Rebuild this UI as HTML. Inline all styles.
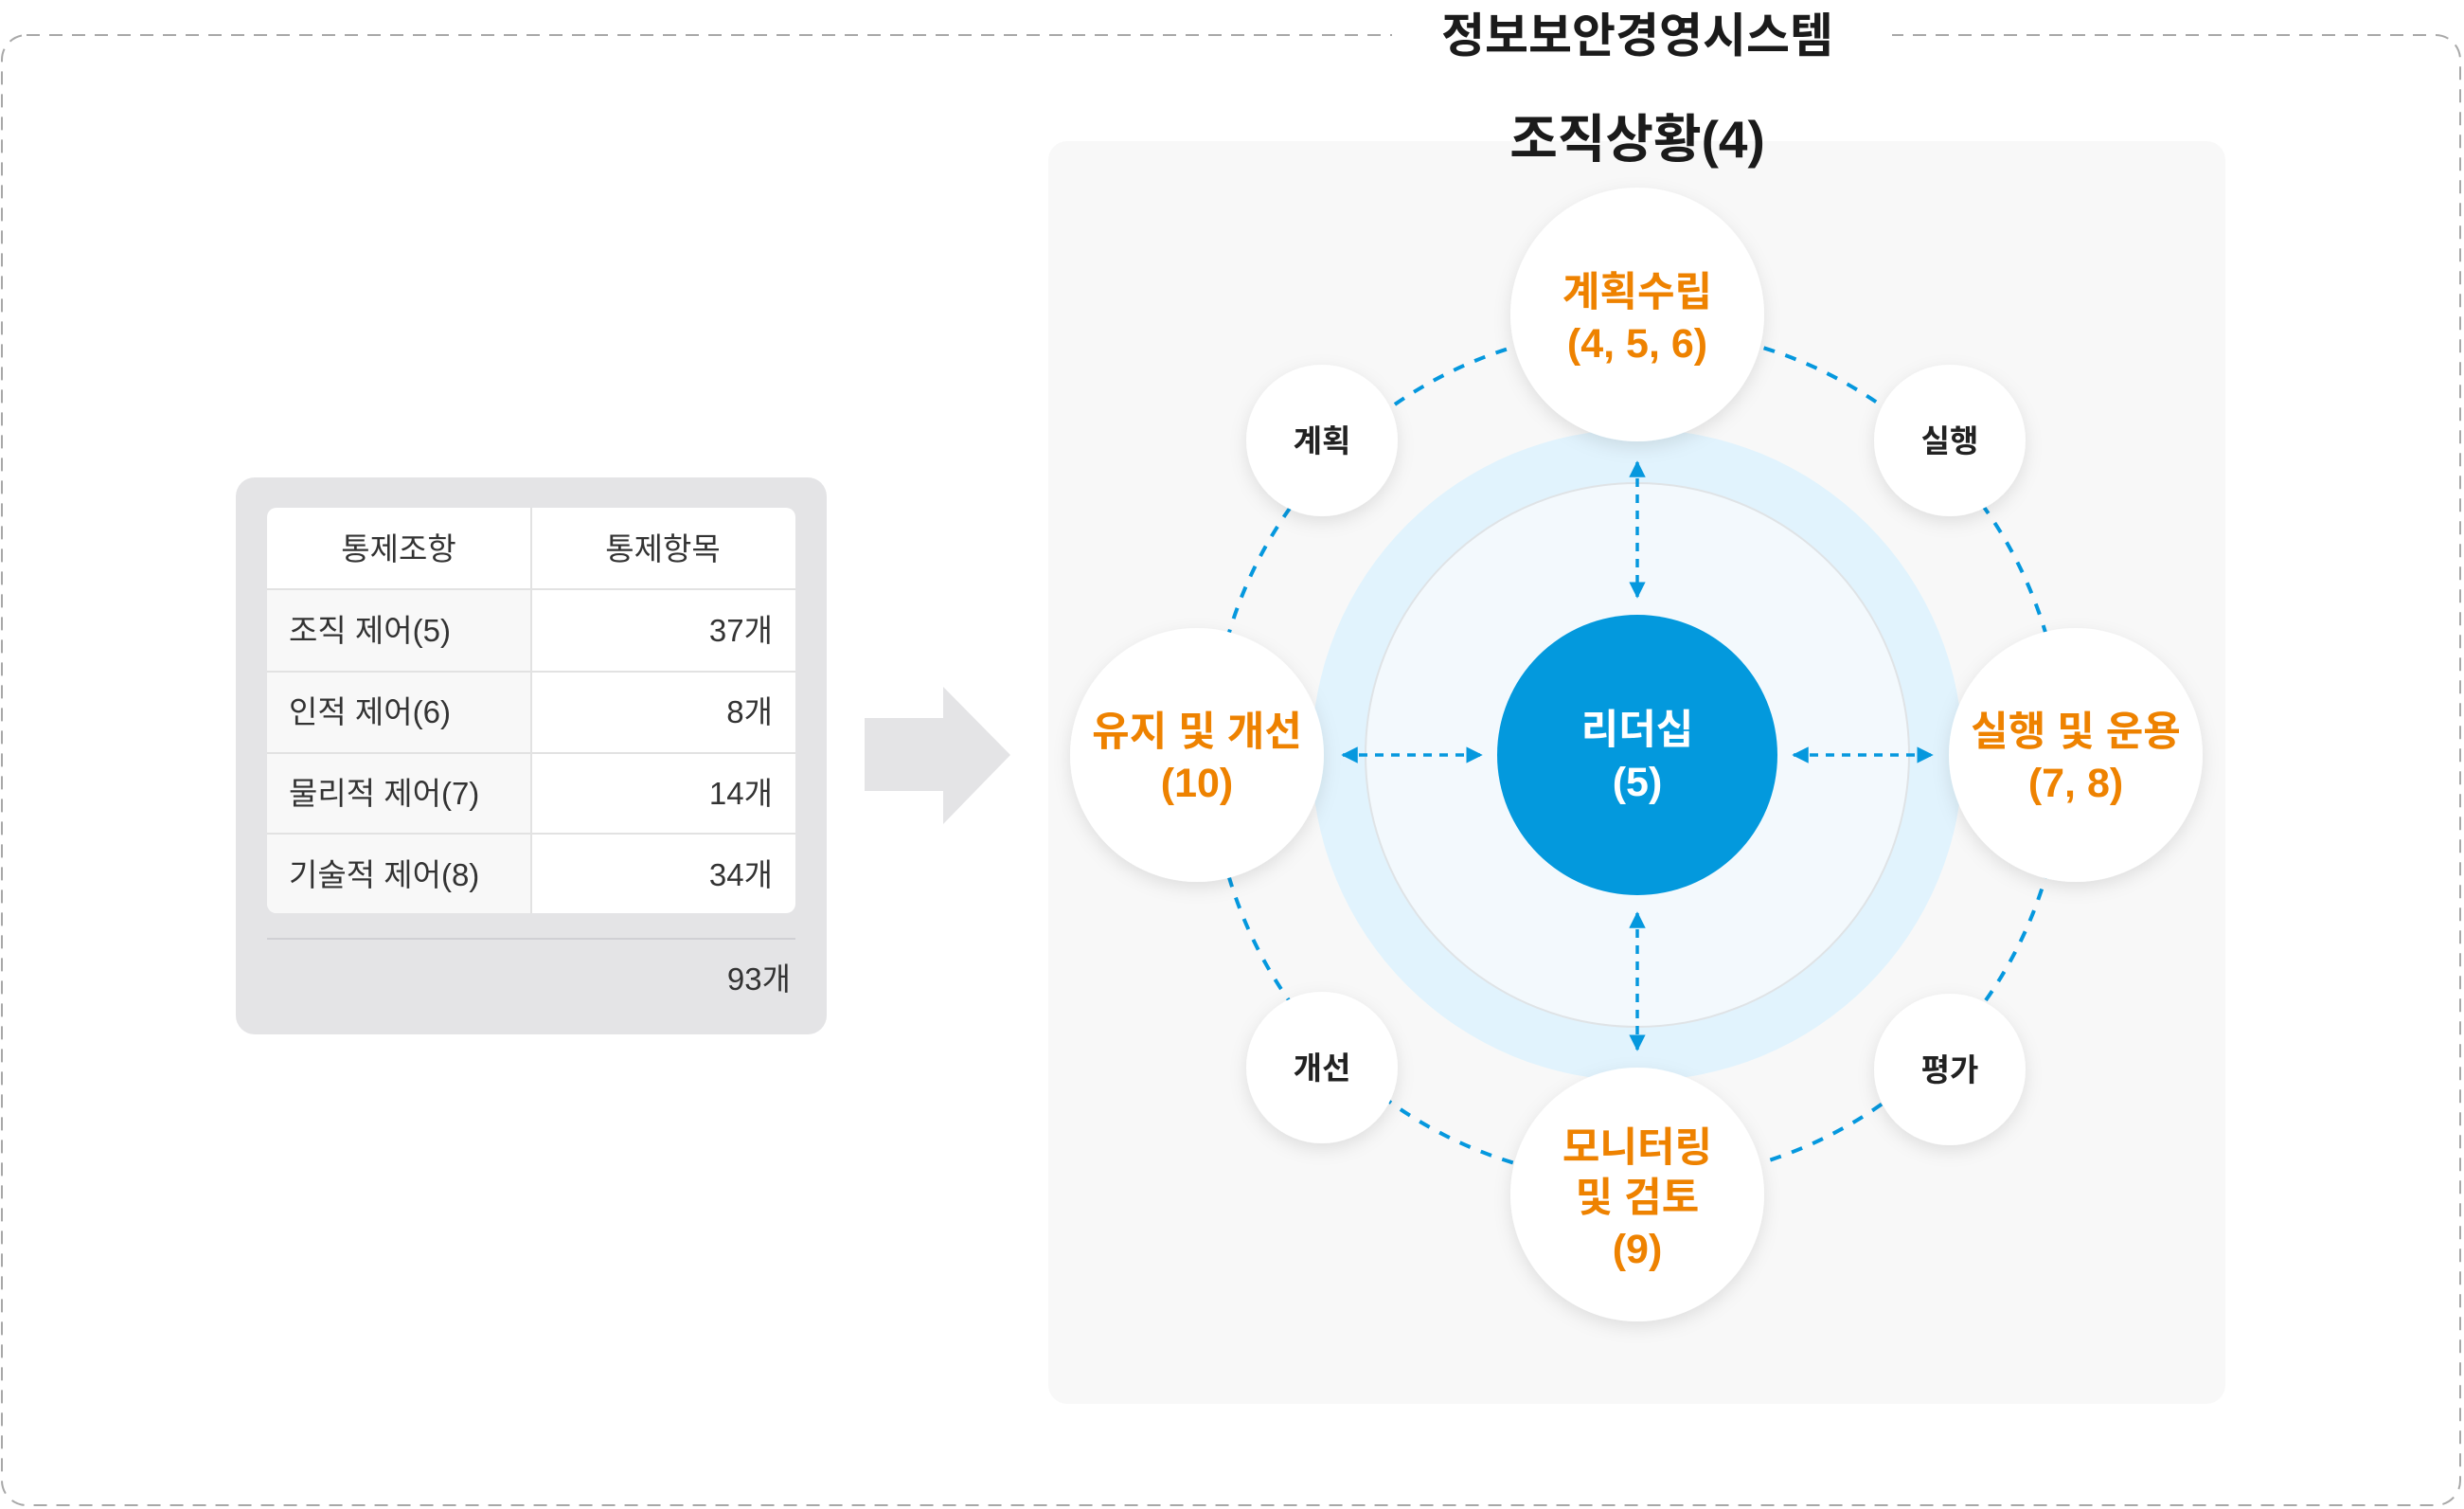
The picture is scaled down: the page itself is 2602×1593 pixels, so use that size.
<!DOCTYPE html>
<html><head><meta charset="utf-8"><style>
html,body{margin:0;padding:0;background:#fff;}
svg{display:block;}
text{font-family:"Liberation Sans","Noto Sans CJK KR",sans-serif;}
</style></head><body>
<svg width="2602" height="1593" viewBox="0 0 2602 1593" xmlns="http://www.w3.org/2000/svg">
<defs>
<filter id="sh" x="-30%" y="-30%" width="160%" height="160%"><feDropShadow dx="0" dy="6" stdDeviation="9" flood-color="#000" flood-opacity="0.10"/></filter>
<marker id="ah" viewBox="0 0 10 10" refX="9" refY="5" markerWidth="5" markerHeight="5" orient="auto-start-reverse"><path d="M0,0 L10,5 L0,10 z" fill="#0598de"/></marker>
</defs>
<rect x="2" y="37" width="2596" height="1552" rx="26" fill="none" stroke="#a8a8a8" stroke-width="2" stroke-dasharray="14 10"/>
<rect x="1470" y="22" width="528" height="34" fill="#fff"/>
<text x="1729" y="55" font-size="50" font-weight="bold" fill="#1b1b1b" text-anchor="middle">정보보안경영시스템</text>

<rect x="249" y="504" width="624" height="588" rx="20" fill="#e4e4e6"/>
<rect x="282" y="536" width="558" height="428" rx="10" fill="#fff"/>
<path d="M282 622 H561 V964 H292 a10 10 0 0 1 -10 -10 Z" fill="#f8f8f8"/>
<g stroke="#e2e2e2" stroke-width="2">
<line x1="561" y1="536" x2="561" y2="964"/>
<line x1="282" y1="622" x2="840" y2="622"/>
<line x1="282" y1="709" x2="840" y2="709"/>
<line x1="282" y1="795" x2="840" y2="795"/>
<line x1="282" y1="880" x2="840" y2="880"/>
</g>
<line x1="282" y1="991" x2="840" y2="991" stroke="#d0d0d4" stroke-width="2"/>
<g font-size="33" fill="#333">
<text x="421" y="591" text-anchor="middle">통제조항</text>
<text x="700" y="591" text-anchor="middle">통제항목</text>
<text x="305" y="677">조직 제어(5)</text>
<text x="305" y="763">인적 제어(6)</text>
<text x="305" y="849">물리적 제어(7)</text>
<text x="305" y="935">기술적 제어(8)</text>
<text x="816" y="677" text-anchor="end">37개</text>
<text x="816" y="763" text-anchor="end">8개</text>
<text x="816" y="849" text-anchor="end">14개</text>
<text x="816" y="935" text-anchor="end">34개</text>
<text x="835" y="1045" text-anchor="end">93개</text>
</g>

<path d="M913 758 H996 V725 L1067 797 L996 870 V835 H913 Z" fill="#e4e4e6"/>

<rect x="1107" y="149" width="1243" height="1333" rx="20" fill="#f8f8f8"/>
<text x="1729" y="166" font-size="55" font-weight="bold" fill="#1b1b1b" text-anchor="middle">조직상황(4)</text>

<circle cx="1729" cy="797" r="344" fill="#e1f3fd"/>
<circle cx="1729" cy="797" r="287" fill="#f3f9fd" stroke="#dfe3e6" stroke-width="2"/>
<circle cx="1729" cy="797" r="450" fill="none" stroke="#0598de" stroke-width="4" stroke-dasharray="12 12"/>
<circle cx="1729" cy="797" r="148" fill="#0399dd"/>
<text x="1729" y="785" font-size="43" font-weight="bold" fill="#fff" text-anchor="middle">리더십</text>
<text x="1729" y="840" font-size="43" font-weight="bold" fill="#fff" text-anchor="middle">(5)</text>

<g stroke="#0598de" stroke-width="3.5" stroke-dasharray="9 8" marker-start="url(#ah)" marker-end="url(#ah)">
<line x1="1729" y1="488" x2="1729" y2="630"/>
<line x1="1729" y1="964" x2="1729" y2="1108"/>
<line x1="1418" y1="797" x2="1564" y2="797"/>
<line x1="1894" y1="797" x2="2040" y2="797"/>
</g>

<g filter="url(#sh)" fill="#fff">
<circle cx="1729" cy="332" r="134"/>
<circle cx="2192" cy="797" r="134"/>
<circle cx="1729" cy="1261" r="134"/>
<circle cx="1264" cy="797" r="134"/>
<circle cx="1396" cy="465" r="80"/>
<circle cx="2059" cy="465" r="80"/>
<circle cx="1396" cy="1127" r="80"/>
<circle cx="2059" cy="1129" r="80"/>
</g>
<g font-size="43" font-weight="bold" fill="#ee8200" text-anchor="middle">
<text x="1729" y="323">계획수립</text>
<text x="1729" y="377">(4, 5, 6)</text>
<text x="2192" y="787">실행 및 운용</text>
<text x="2192" y="841">(7, 8)</text>
<text x="1264" y="787">유지 및 개선</text>
<text x="1264" y="841">(10)</text>
<text x="1729" y="1226">모니터링</text>
<text x="1729" y="1279">및 검토</text>
<text x="1729" y="1333">(9)</text>
</g>
<g font-size="33" font-weight="bold" fill="#222" text-anchor="middle">
<text x="1396" y="477">계획</text>
<text x="2059" y="477">실행</text>
<text x="1396" y="1139">개선</text>
<text x="2059" y="1141">평가</text>
</g>
</svg>
</body></html>
